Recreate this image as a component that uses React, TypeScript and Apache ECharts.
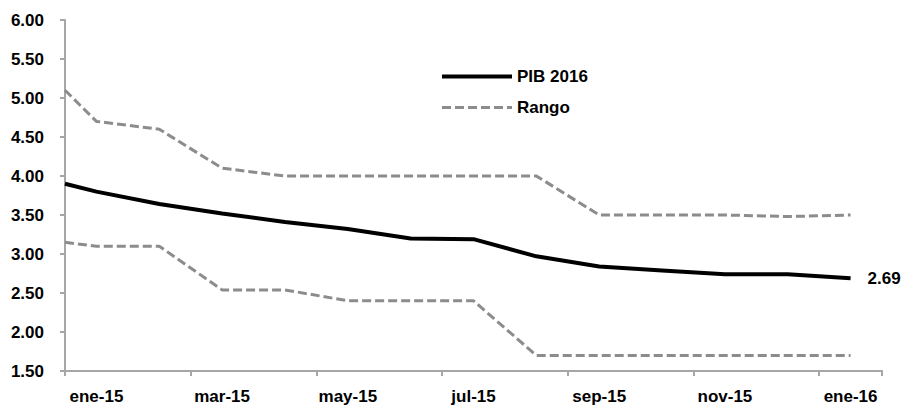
import React, { useEffect, useRef } from 'react';
import * as echarts from 'echarts';

// Month slots shown on the category axis
const categories = ['ene-15', 'feb-15', 'mar-15', 'abr-15', 'may-15', 'jun-15', 'jul-15', 'ago-15', 'sep-15', 'oct-15', 'nov-15', 'dic-15', 'ene-16'];
// Position of each observation, in months from the start of ene-15
const monthPos = [0, 0.5, 1.5, 2.5, 3.5, 4.5, 5.5, 6.5, 7.5, 8.5, 9.5, 10.5, 11.5, 12.5];
const pib2016 = [3.90, 3.80, 3.64, 3.52, 3.41, 3.32, 3.20, 3.19, 2.97, 2.84, 2.79, 2.74, 2.74, 2.69];
const rangoUpper = [5.10, 4.70, 4.60, 4.10, 4.00, 4.00, 4.00, 4.00, 4.00, 3.50, 3.50, 3.50, 3.48, 3.50];
const rangoLower = [3.15, 3.10, 3.10, 2.54, 2.54, 2.40, 2.40, 2.40, 1.70, 1.70, 1.70, 1.70, 1.70, 1.70];
const yMin = 1.5;
const yMax = 6;
const yStep = 0.5;

const FONT = "'Liberation Sans Narrow', 'Arial Narrow', 'Liberation Sans', Arial, sans-serif";
const AXIS_COLOR = '#a6a6a6';
const RANGE_COLOR = '#8c8c8c';

export default function App() {
  const ref = useRef<HTMLDivElement>(null);
  useEffect(() => {
    if (!ref.current) return;
    const chart = echarts.init(ref.current, null, { renderer: 'svg' });
    const toPairs = (ys: number[]) => ys.map((y, i) => [monthPos[i], y]);
    const textStyle = { fontFamily: FONT, fontWeight: 'bold' as const, fontSize: 17, color: '#000' };
    const pibLine = { color: '#000', width: 4 };
    const rangeLine = { color: RANGE_COLOR, width: 3, type: [9, 4] };
    chart.setOption({
      animation: false,
      backgroundColor: '#fff',
      grid: { left: 65, right: 21, top: 20, bottom: 39, containLabel: false, outerBoundsMode: 'none' },
      legend: {
        show: true,
        orient: 'vertical',
        left: 440,
        top: 68,
        padding: 0,
        itemWidth: 70,
        itemHeight: 14,
        itemGap: 14,
        itemStyle: { opacity: 0 },
        data: [
          { name: 'PIB 2016', lineStyle: { ...pibLine }, itemStyle: { opacity: 0 } },
          { name: 'Rango', lineStyle: { ...rangeLine }, itemStyle: { opacity: 0 } },
        ],
        textStyle: { ...textStyle },
      },
      xAxis: [
        {
          type: 'category',
          data: categories,
          boundaryGap: true,
          position: 'bottom',
          axisLine: { show: true, lineStyle: { color: AXIS_COLOR, width: 2 } },
          axisTick: { show: true, interval: 1, length: 5, lineStyle: { color: AXIS_COLOR, width: 2 } },
          axisLabel: { show: true, interval: 1, margin: 17, ...textStyle },
          splitLine: { show: false },
        },
        { type: 'value', min: 0, max: 13, show: false, position: 'bottom' },
      ],
      yAxis: {
        type: 'value',
        min: yMin,
        max: yMax,
        interval: yStep,
        axisLine: { show: true, lineStyle: { color: AXIS_COLOR, width: 2 } },
        axisTick: { show: true, length: 5, lineStyle: { color: AXIS_COLOR, width: 2 } },
        splitLine: { show: false },
        axisLabel: { margin: 21, formatter: (v: number) => v.toFixed(2), ...textStyle },
      },
      series: [
        {
          name: 'Rango',
          type: 'line',
          xAxisIndex: 1,
          data: toPairs(rangoUpper),
          symbol: 'none',
          lineStyle: { ...rangeLine },
          itemStyle: { color: RANGE_COLOR },
        },
        {
          name: 'Rango',
          type: 'line',
          xAxisIndex: 1,
          data: toPairs(rangoLower),
          symbol: 'none',
          lineStyle: { ...rangeLine },
          itemStyle: { color: RANGE_COLOR },
        },
        {
          name: 'PIB 2016',
          type: 'line',
          xAxisIndex: 1,
          data: toPairs(pib2016),
          symbol: 'none',
          lineStyle: { ...pibLine },
          itemStyle: { color: '#000' },
          endLabel: {
            show: true,
            distance: 17,
            formatter: (p: any) => Number(p.value[1]).toFixed(2),
            ...textStyle,
          },
        },
      ],
    });
    return () => chart.dispose();
  }, []);
  return <div ref={ref} style={{ position: 'fixed', left: 0, top: 0, width: 903, height: 410 }} />;
}
